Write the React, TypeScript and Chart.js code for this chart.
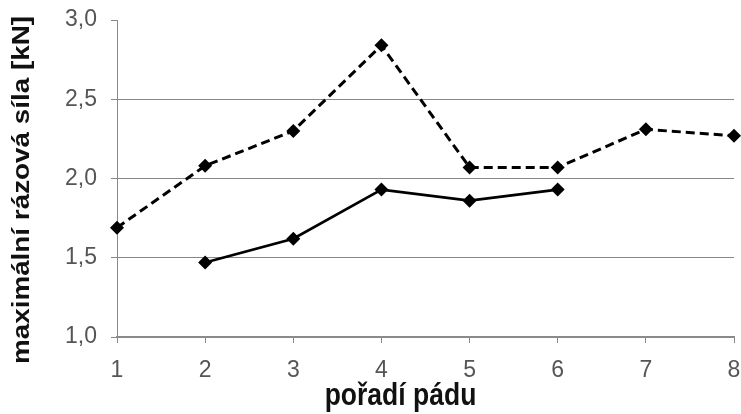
import React, { useEffect, useRef } from "react";
import { Chart, registerables } from "chart.js";

Chart.register(...registerables);

const categories = ["1", "2", "3", "4", "5", "6", "7", "8"];
const dashedSeries = [1.69, 2.08, 2.3, 2.84, 2.07, 2.07, 2.31, 2.27];
const solidSeries = [null, 1.47, 1.62, 1.93, 1.86, 1.93, null, null];
const yTicks = [1.0, 1.5, 2.0, 2.5, 3.0];
const xTitle = "pořadí pádu";
const yTitle = "maximální rázová síla [kN]";

const FONT = "'Liberation Sans', Arial, sans-serif";

// draws the two axis titles (slightly stretched like the source image)
const axisTitlesPlugin = {
  id: "axisTitles",
  afterDraw(chart: any) {
    const { ctx, chartArea } = chart;
    const stretch = 1.16;
    ctx.save();
    ctx.fillStyle = "#111";
    ctx.textAlign = "center";
    ctx.textBaseline = "middle";
    // x title
    ctx.save();
    ctx.font = `bold 26.5px ${FONT}`;
    const xc = (chartArea.left + chartArea.right) / 2 - 25;
    const yc = chartArea.bottom + 60;
    ctx.translate(xc, yc);
    ctx.scale(1, stretch);
    ctx.fillText(xTitle, 0, 0);
    ctx.restore();
    // y title
    ctx.save();
    ctx.font = `bold 24px ${FONT}`;
    const yx = chartArea.left - 94.5;
    const yy = (chartArea.top + chartArea.bottom) / 2 + 11.5;
    ctx.translate(yx, yy);
    ctx.rotate(-Math.PI / 2);
    ctx.scale(stretch, 1);
    ctx.fillText(yTitle, 0, 0);
    ctx.restore();
    ctx.restore();
  },
};

export default function App() {
  const ref = useRef<HTMLCanvasElement | null>(null);

  useEffect(() => {
    if (!ref.current) return;
    const chart = new Chart(ref.current, {
      type: "line",
      data: {
        labels: categories,
        datasets: [
          {
            label: "A",
            data: dashedSeries,
            borderColor: "#000",
            backgroundColor: "#000",
            borderWidth: 3,
            borderDash: [9, 5],
            pointStyle: "rectRot",
            pointRadius: 7,
            pointHoverRadius: 7,
            pointBorderWidth: 0,
            tension: 0,
          },
          {
            label: "B",
            data: solidSeries,
            borderColor: "#000",
            backgroundColor: "#000",
            borderWidth: 2.7,
            pointStyle: "rectRot",
            pointRadius: 7,
            pointHoverRadius: 7,
            pointBorderWidth: 0,
            tension: 0,
            spanGaps: false,
          },
        ],
      },
      plugins: [axisTitlesPlugin],
      options: {
        animation: false,
        responsive: true,
        maintainAspectRatio: false,
        layout: { padding: { left: 0, top: 20, right: 3, bottom: 0 } },
        plugins: {
          legend: { display: false },
          tooltip: { enabled: false },
        },
        scales: {
          x: {
            type: "category",
            offset: false,
            grid: {
              drawOnChartArea: false,
              drawTicks: true,
              tickLength: 6,
              tickColor: "#888",
            },
            border: { color: "#8a8a8a", width: 2 },
            ticks: {
              color: "#555",
              font: { family: FONT, size: 23 },
              padding: 14,
              maxRotation: 0,
              autoSkip: false,
            },
            title: { display: false },
            afterFit: (scale: any) => {
              scale.height = 77;
              scale.paddingLeft = 0;
              scale.paddingRight = 0;
            },
          },
          y: {
            min: 1,
            max: 3,
            afterBuildTicks: (scale: any) => {
              scale.ticks = yTicks.map((v) => ({ value: v }));
            },
            grid: {
              color: (ctx: any) =>
                ctx.tick && (ctx.tick.value === 3 || ctx.tick.value === 1)
                  ? "rgba(0,0,0,0)"
                  : "#888",
              tickColor: "#888",
              tickLength: 6,
              lineWidth: 1,
            },
            border: { color: "#8a8a8a", width: 1 },
            ticks: {
              color: "#555",
              font: { family: FONT, size: 23 },
              padding: 14,
              callback: (v: any) => Number(v).toFixed(1).replace(".", ","),
            },
            title: { display: false },
            afterFit: (scale: any) => {
              scale.width = 117;
              scale.paddingTop = 0;
              scale.paddingBottom = 0;
            },
          },
        },
      },
    });
    return () => chart.destroy();
  }, []);

  return (
    <div
      style={{
        position: "fixed",
        left: 0,
        top: 0,
        width: 741,
        height: 414,
        background: "#fff",
      }}
    >
      <canvas ref={ref} />
    </div>
  );
}
